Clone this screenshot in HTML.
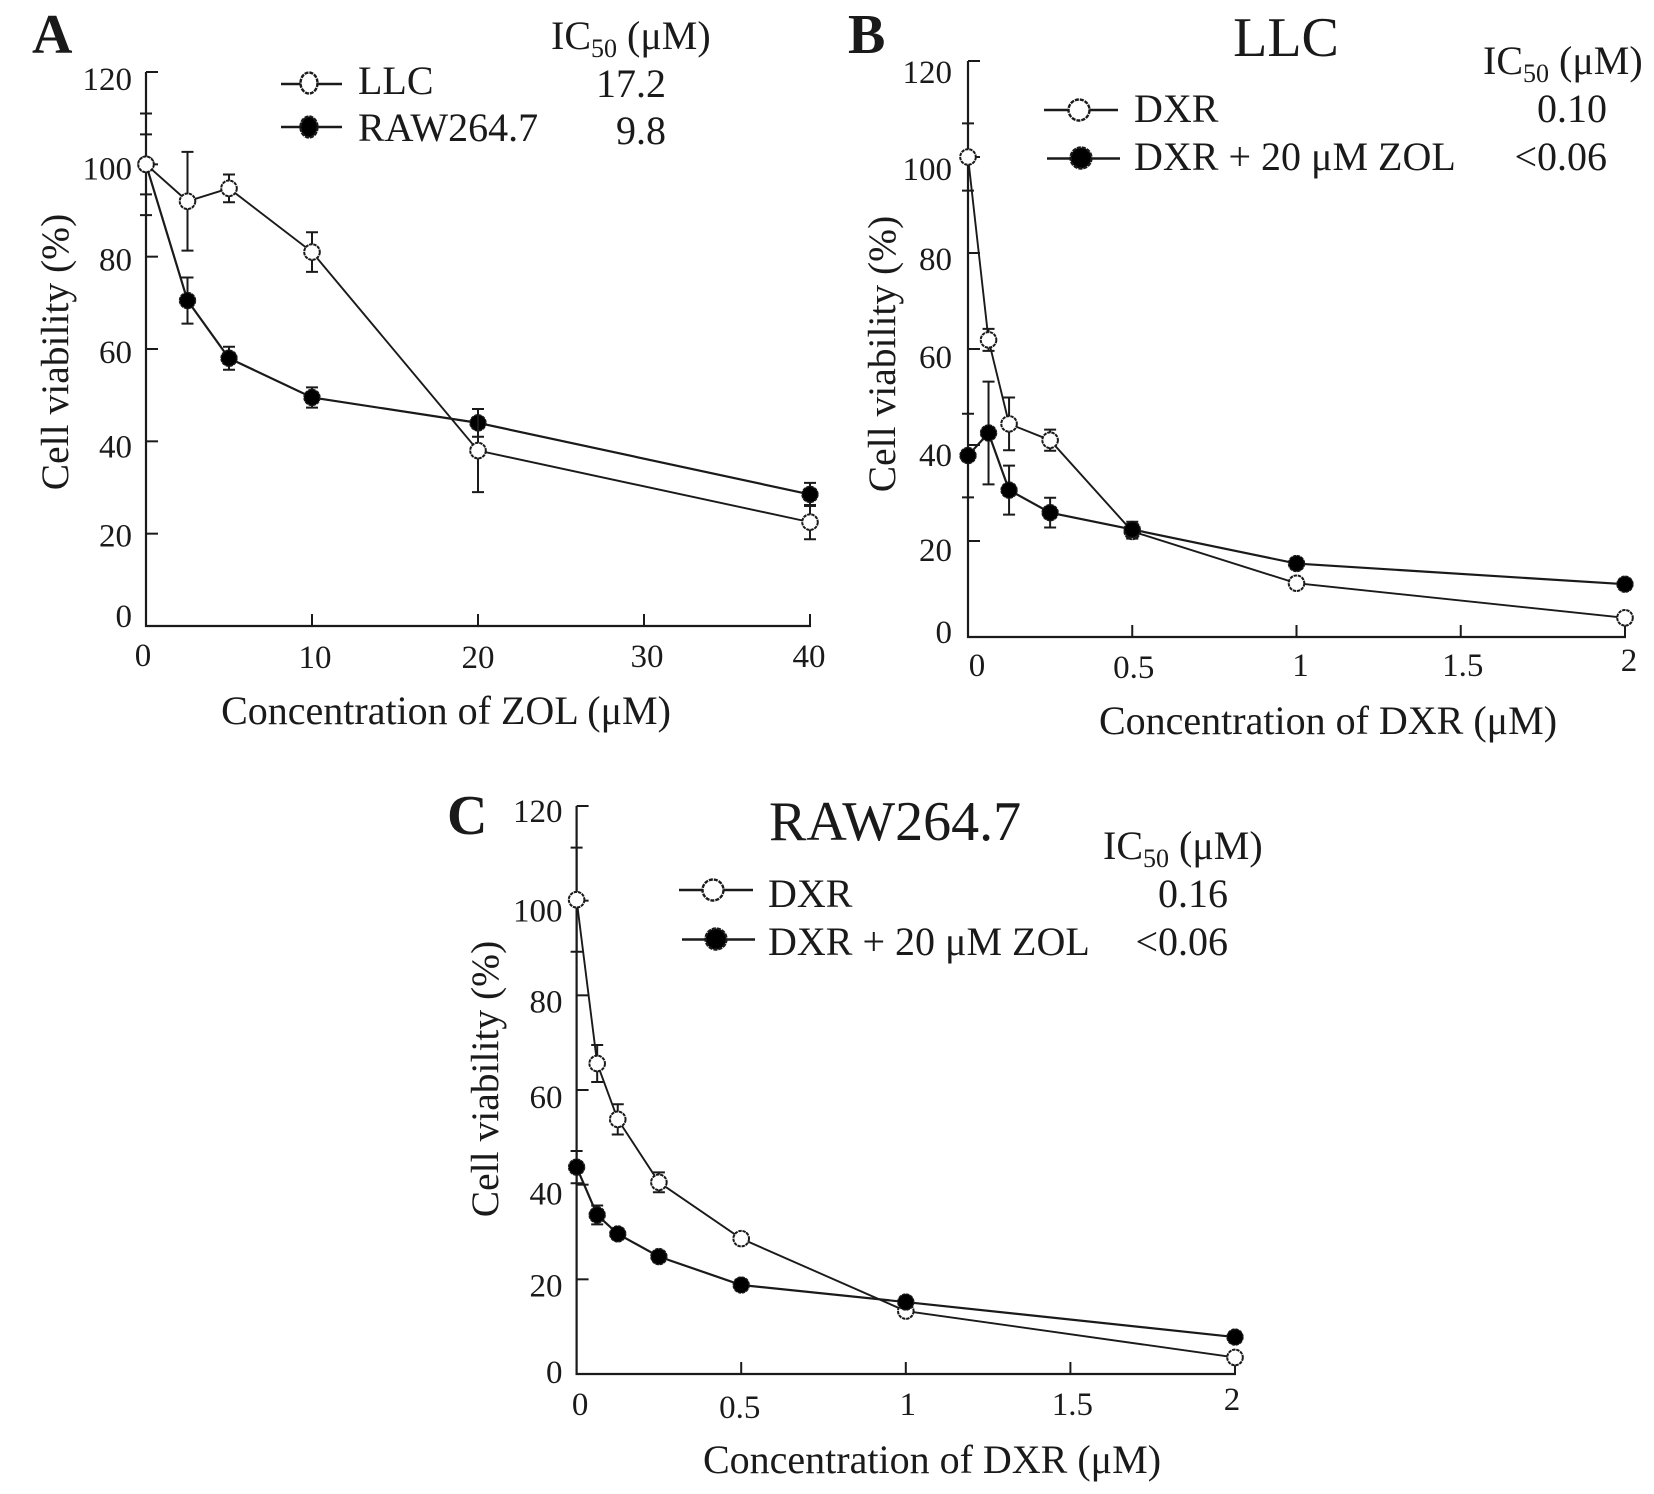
<!DOCTYPE html>
<html lang="en">
<head>
<meta charset="utf-8">
<title>Cell viability charts</title>
<style>
html,body{margin:0;padding:0;background:#fff;width:1654px;height:1494px;overflow:hidden}
svg{display:block}
text{font-family:"Liberation Serif",serif;fill:#1a1a1a}
</style>
</head>
<body>
<svg id="figure" xmlns="http://www.w3.org/2000/svg" width="1654" height="1494" viewBox="0 0 1654 1494">
<rect width="1654" height="1494" fill="#fff"/>

<g font-size="40">
<text x="32" y="53" font-size="56" font-weight="bold">A</text>
<text x="551" y="49">IC<tspan font-size="26" dy="8">50</tspan><tspan dy="-8"> (μM)</tspan></text>
<text x="358" y="94">LLC</text>
<text x="358" y="141">RAW264.7</text>
<text x="666" y="97" text-anchor="end">17.2</text>
<text x="666" y="144" text-anchor="end">9.8</text>
<text x="446" y="724" text-anchor="middle">Concentration of ZOL (μM)</text>
<text font-size="39.5" transform="translate(68,352) rotate(-90)" text-anchor="middle">Cell viability (%)</text>
</g>

<g font-size="40">
<text x="848" y="53" font-size="56" font-weight="bold">B</text>
<text x="1286" y="56" font-size="56" text-anchor="middle">LLC</text>
<text x="1483" y="74">IC<tspan font-size="26" dy="8">50</tspan><tspan dy="-8"> (μM)</tspan></text>
<text x="1134" y="122">DXR</text>
<text x="1134" y="170">DXR + 20 μM ZOL</text>
<text x="1607" y="122" text-anchor="end">0.10</text>
<text x="1607" y="170" text-anchor="end">&lt;0.06</text>
<text x="1328" y="734" text-anchor="middle">Concentration of DXR (μM)</text>
<text font-size="39.5" transform="translate(895,354) rotate(-90)" text-anchor="middle">Cell viability (%)</text>
</g>

<g font-size="40">
<text x="447" y="834" font-size="56" font-weight="bold">C</text>
<text x="769" y="840" font-size="56">RAW264.7</text>
<text x="1103" y="859">IC<tspan font-size="26" dy="8">50</tspan><tspan dy="-8"> (μM)</tspan></text>
<text x="768" y="907">DXR</text>
<text x="768" y="955">DXR + 20 μM ZOL</text>
<text x="1228" y="907" text-anchor="end">0.16</text>
<text x="1228" y="955" text-anchor="end">&lt;0.06</text>
<text x="932" y="1473" text-anchor="middle">Concentration of DXR (μM)</text>
<text font-size="39.5" transform="translate(498,1079) rotate(-90)" text-anchor="middle">Cell viability (%)</text>
</g>

<g stroke="#1a1a1a" stroke-width="2.4">
<line x1="281" y1="84" x2="342" y2="84"/>
<ellipse cx="309" cy="83" rx="8.5" ry="10.5" fill="#fff" stroke-dasharray="4 1"/>
<line x1="281" y1="127" x2="342" y2="127"/>
<ellipse cx="309" cy="127" rx="8.5" ry="10.5" fill="#000" stroke-dasharray="4 1"/>
</g>
<g stroke="#1a1a1a" stroke-width="2.4">
<line x1="1044" y1="110" x2="1118" y2="110"/>
<ellipse cx="1079" cy="110" rx="10.5" ry="10.5" fill="#fff" stroke-dasharray="4 1"/>
<line x1="1047" y1="158.500" x2="1120" y2="158.500" stroke-width="2.6"/>
<ellipse cx="1081" cy="158" rx="10.5" ry="10.5" fill="#000" stroke-dasharray="4 1"/>
</g>
<g stroke="#1a1a1a" stroke-width="2.4">
<line x1="679" y1="890" x2="753" y2="890"/>
<ellipse cx="713" cy="890" rx="10.5" ry="10.5" fill="#fff" stroke-dasharray="4 1"/>
<line x1="682" y1="939.500" x2="755" y2="939.500" stroke-width="2.6"/>
<ellipse cx="716" cy="939" rx="10.5" ry="10.5" fill="#000" stroke-dasharray="4 1"/>
</g>
</svg>

<script>
// ---- Data ----
var yTicks = [0, 20, 40, 60, 80, 100, 120];
var yTickLabels = ['0', '20', '40', '60', '80', '100', '120'];

var aXTicks = [0, 10, 20, 30, 40];
var aXTickLabels = ['0', '10', '20', '30', '40'];
var aConcentrations = [0, 2.5, 5, 10, 20, 40];
var aLLC = [100, 92, 94.8, 81, 38, 22.5];
var aLLCError = [11, 10.7, 3, 4.3, 9, 3.7];
var aRAW = [100, 70.5, 58, 49.5, 44, 28.5];
var aRAWError = [6.5, 5, 2.5, 2.2, 3, 2.5];

var dxrXTicks = [0, 0.5, 1, 1.5, 2];
var dxrXTickLabels = ['0', '0.5', '1', '1.5', '2'];
var dxrConcentrations = [0, 0.0625, 0.125, 0.25, 0.5, 1, 2];

var bDXR = [100, 61.9, 44.4, 41, 22, 11.2, 4];
var bDXRError = [7, 2.3, 5.5, 2.2, 1.5, 0.8, 0.5];
var bCombo = [37.8, 42.5, 30.6, 25.9, 22.4, 15.3, 11];
var bComboError = [8.7, 10.7, 5.1, 3.1, 1.6, 1, 0.5];

var cDXR = [100.2, 65.6, 53.8, 40.5, 28.6, 13.3, 3.5];
var cDXRError = [11, 3.9, 3.2, 2.1, 1.2, 0.8, 0.4];
var cCombo = [43.7, 33.6, 29.6, 24.8, 18.8, 15.2, 7.8];
var cComboError = [3.4, 2, 0.8, 0.8, 1, 1, 0.5];

// ---- Rendering ----
var NS = 'http://www.w3.org/2000/svg';
var INK = '#1a1a1a';
var root = document.getElementById('figure');

function make(tag, parent, attrs) {
  var el = document.createElementNS(NS, tag);
  for (var k in attrs) el.setAttribute(k, attrs[k]);
  parent.appendChild(el);
  return el;
}

function drawSeries(parent, name, xs, ys, errs, filled, xScale, yScale) {
  var g = make('g', parent, {});
  
  
  var pts = [];
  for (var i = 0; i < xs.length; i++) pts.push(xScale(xs[i]) + ',' + yScale(ys[i]));
  var line = make('polyline', g, {points: pts.join(' '), fill: 'none', stroke: INK, 'stroke-width': filled ? 2.2 : 1.9});
  
  
  for (var j = 0; j < xs.length; j++) {
    var x = xScale(xs[j]);
    var top = yScale(ys[j] + errs[j]);
    var bot = yScale(ys[j] - errs[j]);
    var bar = make('path', g, {
      d: 'M' + x + ' ' + top + 'V' + bot + 'M' + (x - 6) + ' ' + top + 'H' + (x + 6) + 'M' + (x - 6) + ' ' + bot + 'H' + (x + 6),
      fill: 'none', stroke: INK, 'stroke-width': 2
    });
    
    
  }
  for (var m = 0; m < xs.length; m++) {
    var dot = make('circle', g, {
      cx: xScale(xs[m]), cy: yScale(ys[m]), r: filled ? 8 : 7.8,
      fill: filled ? '#000' : '#fff', stroke: INK, 'stroke-width': filled ? 1.4 : 2
    });
    dot.setAttribute('stroke-dasharray', '3.4 0.8');
    
    
  }
}

function drawPanel(p) {
  var g = make('g', root, {});
  
  
  function xScale(v) { return p.left + (v - 0) * (p.right - p.left) / p.xMax; }
  function yScale(v) { return p.bottom - v * (p.bottom - p.top) / 120; }

  var yAxis = make('line', g, {x1: p.left, y1: p.top, x2: p.left, y2: p.bottom + 1, stroke: INK, 'stroke-width': 2.2});
  
  
  var xAxis = make('line', g, {x1: p.left - 1, y1: p.bottom, x2: p.right + 1, y2: p.bottom, stroke: INK, 'stroke-width': 2.2});
  
  

  yTicks.forEach(function (t, i) {
    var yt = make('line', g, {x1: p.left, y1: yScale(t), x2: p.left + 12, y2: yScale(t), stroke: INK, 'stroke-width': 2});
    
    
    var yl = make('text', g, {x: p.yLabelRight, y: yScale(t) + p.yLabelShift[i], 'text-anchor': 'end', 'font-size': 33});
    yl.textContent = yTickLabels[i];
    
    
  });
  p.xTicks.forEach(function (t, i) {
    if (t !== 0) {
      var xt = make('line', g, {x1: xScale(t), y1: p.bottom, x2: xScale(t), y2: p.bottom - 12, stroke: INK, 'stroke-width': 2});
      
      
    }
    var xl = make('text', g, {x: xScale(t) + p.xLabelShift[i], y: p.xLabelBase + p.xLabelDrop[i], 'text-anchor': 'middle', 'font-size': 33});
    xl.textContent = p.xLabels[i];
    
    
  });

  p.series.forEach(function (s) {
    drawSeries(g, p.id + '-' + s.name, p.xs, s.ys, s.errs, s.filled, xScale, yScale);
  });
}

drawPanel({
  id: 'panel-a', left: 146, right: 810, top: 72, bottom: 626, xMax: 40,
  yLabelRight: 132, yLabelShift: [1, 13, 16, 14, 14, 15, 18],
  xTicks: aXTicks, xLabels: aXTickLabels, xLabelBase: 667,
  xLabelShift: [-3, 3, 0, 3, -1], xLabelDrop: [-1, 1, 1, 0, 0],
  xs: aConcentrations,
  series: [
    {name: 'raw264-7', ys: aRAW, errs: aRAWError, filled: true},
    {name: 'llc', ys: aLLC, errs: aLLCError, filled: false}
  ]
});

drawPanel({
  id: 'panel-b', left: 968, right: 1625, top: 61, bottom: 637, xMax: 2,
  yLabelRight: 952, yLabelShift: [6, 20, 21, 19, 17, 23, 22],
  xTicks: dxrXTicks, xLabels: dxrXTickLabels, xLabelBase: 676,
  xLabelShift: [9, 1.5, 4, 2, 4], xLabelDrop: [0, 2, 0, 0, -5],
  xs: dxrConcentrations,
  series: [
    {name: 'dxr', ys: bDXR, errs: bDXRError, filled: false},
    {name: 'dxr-zol', ys: bCombo, errs: bComboError, filled: true}
  ]
});

drawPanel({
  id: 'panel-c', left: 576.6, right: 1235, top: 806, bottom: 1374, xMax: 2,
  yLabelRight: 562.5, yLabelShift: [9, 17, 20, 18, 17, 21, 16],
  xTicks: dxrXTicks, xLabels: dxrXTickLabels, xLabelBase: 1415,
  xLabelShift: [3.5, -1.5, 2, 2, -3], xLabelDrop: [0, 3, 0, 0, -5],
  xs: dxrConcentrations,
  series: [
    {name: 'dxr', ys: cDXR, errs: cDXRError, filled: false},
    {name: 'dxr-zol', ys: cCombo, errs: cComboError, filled: true}
  ]
});
</script>
</body>
</html>
